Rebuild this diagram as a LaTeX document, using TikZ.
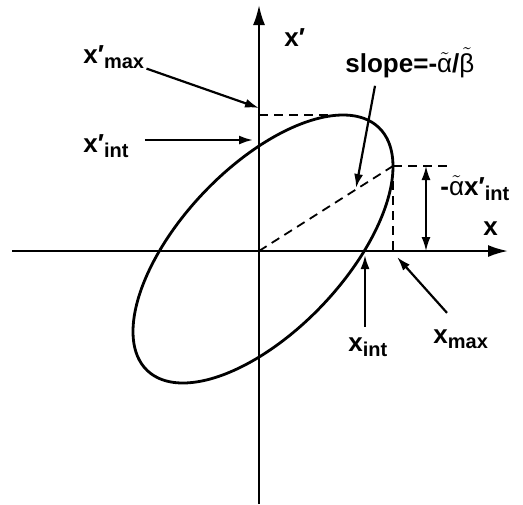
\documentclass[tikz,border=0pt]{standalone}
\usepackage{fontspec}
\setmainfont{Liberation Sans}
\usetikzlibrary{arrows.meta}

\newcommand{\sbs}[1]{\raisebox{-2.5pt}{\fontsize{10}{10}\selectfont #1}}
\newcommand{\ta}{$\tilde{\mbox{\normalfont α}}$}
\newcommand{\tb}{$\tilde{\mbox{\normalfont β}}$}

\begin{document}
\begin{tikzpicture}[
  x=0.5pt, y=-0.5pt,
  axis/.style={line width=1.1pt, -{Latex[length=10pt,width=6pt]}},
  curve/.style={line width=1.4pt},
  guide/.style={line width=0.9pt, dash pattern=on 4.5pt off 3pt},
  pointer/.style={line width=1.1pt, -{Latex[length=7pt,width=4.5pt]}},
  dim/.style={line width=0.9pt, {Latex[length=7pt,width=4.5pt]}-{Latex[length=7pt,width=4.5pt]}},
  lbl/.style={font=\fontsize{13}{15}\selectfont\bfseries, inner sep=0pt, anchor=base west}
]
\useasboundingbox (0,0) rectangle (523,504);

% points
\coordinate (O) at (259,251);
\coordinate (xleft) at (12,251);
\coordinate (xright) at (508,251);
\coordinate (ytop) at (259,5);
\coordinate (ybot) at (259,504);
\coordinate (ptop) at (343,115);
\coordinate (pright) at (393,166);
\coordinate (pxint) at (365,251);
\coordinate (pxpmax) at (259,108);
\coordinate (pxpint) at (253,140);
\coordinate (pslope) at (356,188);
\coordinate (pxmax) at (397,257);

% axes
\draw[axis] (xleft) -- (xright);
\draw[axis] (ybot) -- (ytop);

% ellipse
\draw[curve] plot[domain=0:360, samples=121, smooth] ({263+130*cos(\x)}, {249-134*cos(\x-52)});

% guide lines
\draw[guide] (ptop -| O) -- (ptop);
\draw[guide] (pright) -- ++(60,0);
\draw[guide] (pright) -- ++(0,90);
\draw[guide] (O) -- (pright);
\draw[dim] (426,166) -- (426,251);

% labels
\node[lbl] (lxp) at (284,46) {x′};
\node[lbl] (lx) at (483,235) {x};
\node[lbl] (lxpmax) at (83,63) {x′\sbs{max}};
\node[lbl] (lxpint) at (83,152) {x′\sbs{int}};
\node[lbl] (lslope) at (345,72) {slope=-\ta/\tb};
\node[lbl] (lalpha) at (440,195) {-\ta x′\sbs{int}};
\node[lbl] (lxint) at (348,351) {x\sbs{int}};
\node[lbl] (lxmax) at (433,343) {x\sbs{max}};

% pointers
\draw[pointer] ([xshift=1pt]lxpmax.south east) -- (pxpmax);
\draw[pointer, shorten <=8pt] (lxpint.east |- pxpint) -- (pxpint);
\draw[pointer] ([xshift=15pt,yshift=-4pt]lslope.south west) -- (pslope);
\draw[pointer, shorten <=5pt] (lxint.north -| pxint) -- ([yshift=-2pt]pxint);
\draw[pointer] ([xshift=7pt,yshift=8pt]lxmax.north west) -- (pxmax);

\end{tikzpicture}
\end{document}
